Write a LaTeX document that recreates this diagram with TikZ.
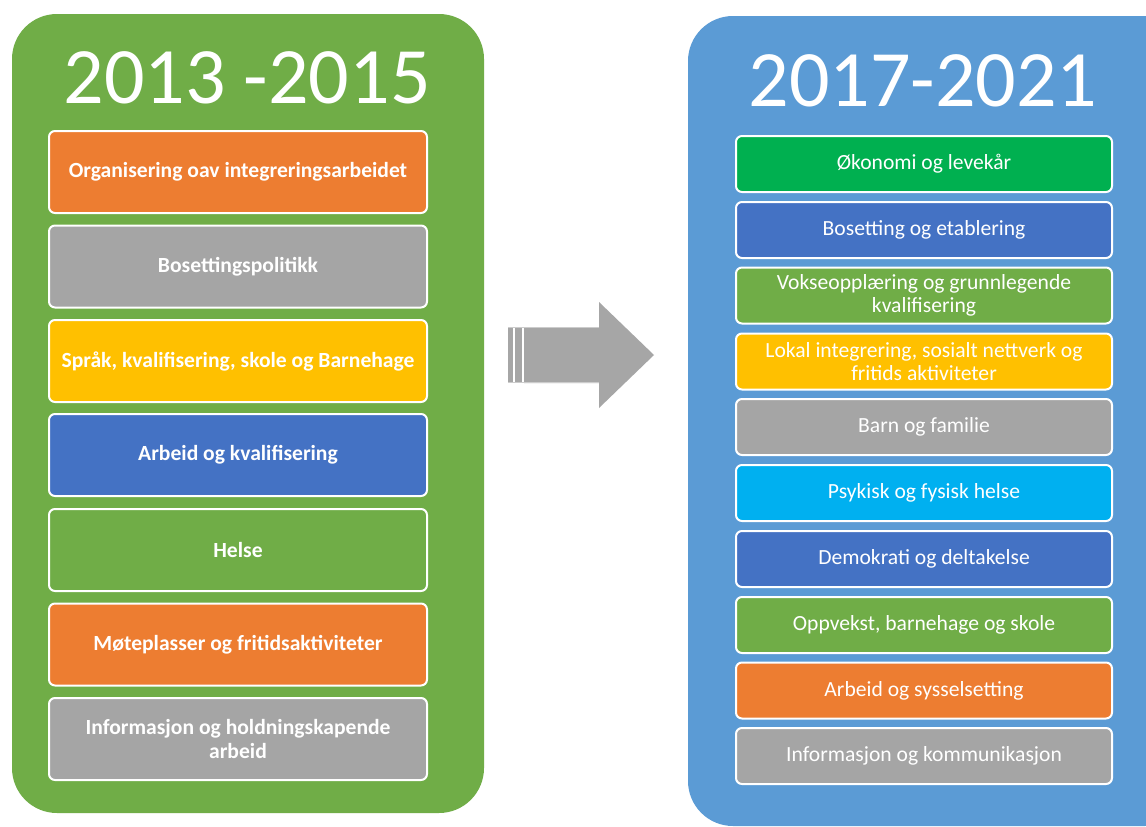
\documentclass[tikz,border=0pt]{standalone}
\usepackage{fontspec}
\setmainfont{Carlito}
\definecolor{pgreen}{HTML}{70AD47}
\definecolor{pblue}{HTML}{5B9BD5}
\definecolor{corange}{HTML}{ED7D31}
\definecolor{cgray}{HTML}{A5A5A5}
\definecolor{cgold}{HTML}{FFC000}
\definecolor{cblue}{HTML}{4472C4}
\definecolor{cgreen}{HTML}{00B050}
\definecolor{ccyan}{HTML}{00B0F0}
\definecolor{arrowgray}{HTML}{A6A6A6}
\begin{document}
\begin{tikzpicture}[x=1pt,y=-1pt,
  panel/.style={rounded corners=45pt},
  title/.style={text=white,anchor=base,font=\fontsize{80}{90}\selectfont},
  lbox/.style={draw=white,line width=2pt,rounded corners=6pt,minimum width=378pt,minimum height=82pt,
    text=white,align=center,font=\bfseries\fontsize{21.6}{24}\selectfont,inner sep=0pt},
  rbox/.style={draw=white,line width=2pt,rounded corners=6pt,minimum width=376pt,minimum height=56pt,
    text=white,align=center,font=\fontsize{21.6}{23}\selectfont,inner sep=0pt}]
\useasboundingbox (0,0) rectangle (1146,827);
\fill[white] (0,0) rectangle (1146,827);
% panels
\fill[pgreen,panel] (12,14) rectangle (484,813);
\fill[pblue,panel] (688,16) rectangle (1190,826);
\fill[white] (1146,0) rectangle (1200,827);
% titles
\node[title] (t1) at (247,103) {2013 -2015};
\node[title] (t2) at (923,106) {2017-2021};
% left boxes
\node[lbox,fill=corange] (l1) at (238,172) {Organisering oav integreringsarbeidet};
\node[lbox,fill=cgray]   (l2) at (238,266.5) {Bosettingspolitikk};
\node[lbox,fill=cgold]   (l3) at (238,361) {Språk, kvalifisering, skole og Barnehage};
\node[lbox,fill=cblue]   (l4) at (238,455) {Arbeid og kvalifisering};
\node[lbox,fill=pgreen]  (l5) at (238,550) {Helse};
\node[lbox,fill=corange] (l6) at (238,644.5) {Møteplasser og fritidsaktiviteter};
\node[lbox,fill=cgray]   (l7) at (238,739) {Informasjon og holdningskapende\\arbeid};
% right boxes
\node[rbox,fill=cgreen]  (r1) at (924,164) {Økonomi og levekår};
\node[rbox,fill=cblue]   (r2) at (924,230) {Bosetting og etablering};
\node[rbox,fill=pgreen]  (r3) at (924,295.5) {Vokseopplæring og grunnlegende\\kvalifisering};
\node[rbox,fill=cgold]   (r4) at (924,361.5) {Lokal integrering, sosialt nettverk og\\fritids aktiviteter};
\node[rbox,fill=cgray]   (r5) at (924,427) {Barn og familie};
\node[rbox,fill=ccyan]   (r6) at (924,493) {Psykisk og fysisk helse};
\node[rbox,fill=cblue]   (r7) at (924,559) {Demokrati og deltakelse};
\node[rbox,fill=pgreen]  (r8) at (924,625) {Oppvekst, barnehage og skole};
\node[rbox,fill=corange] (r9) at (924,690.5) {Arbeid og sysselsetting};
\node[rbox,fill=cgray]   (r10) at (924,756) {Informasjon og kommunikasjon};
% arrow
\fill[arrowgray] (508,327) rectangle (513,383);
\fill[arrowgray] (515,327) rectangle (522,383);
\fill[arrowgray] (524,327) -- (599,327) -- (599,302) -- (654,355) -- (599,408) -- (599,383) -- (524,383) -- cycle;
\draw[gray!40,line width=1pt] (508,327.5) -- (599,327.5);
\draw[gray!40,line width=1pt] (508,382.5) -- (599,382.5);
\end{tikzpicture}
\end{document}
